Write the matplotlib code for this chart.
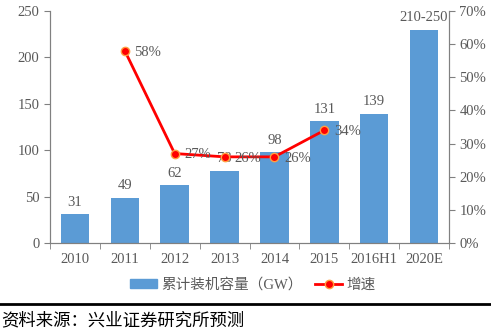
import matplotlib.pyplot as plt
from matplotlib.lines import Line2D
from matplotlib.patches import Patch

plt.rcParams['font.family'] = ['Liberation Serif', 'Noto Sans CJK SC']

# cumulative installed capacity (GW) and growth rate
years = ['2010', '2011', '2012', '2013', '2014', '2015', '2016H1', '2020E']
capacity = [31, 49, 62, 78, 98, 131, 139, 230]
capacity_labels = ['31', '49', '62', '78', '98', '131', '139', '210-250']
growth_years = ['2011', '2012', '2013', '2014', '2015']
growth = [58, 27, 26, 26, 34]

grey = '#595959'
bar_color = '#5B9BD5'
fs = 10.5

fig = plt.figure(figsize=(4.91, 3.28), dpi=100)
ax = fig.add_axes([0.1018, 0.259, 0.8127, 0.7075])
x = list(range(len(years)))
ax.bar(x, capacity, width=0.57, color=bar_color, zorder=2)
for xi, v, lab in zip(x, capacity, capacity_labels):
    ax.annotate(lab, (xi, v), xytext=(0, 4), textcoords='offset points',
                ha='center', va='bottom', fontsize=fs, color=grey)

ax.set_xlim(-0.5, len(years) - 0.5)
ax.set_ylim(0, 250)
ax.set_yticks(range(0, 251, 50))
ax.set_xticks(x)
ax.set_xticklabels(years)
ax.set_xticks([i + 0.5 for i in range(-1, len(years))], minor=True)
ax.tick_params(axis='x', which='major', length=0, pad=7, labelsize=fs, labelcolor=grey)
ax.tick_params(axis='x', which='minor', length=4, color='#808080', direction='out')
ax.tick_params(axis='y', length=4, color='#808080', labelsize=fs, labelcolor=grey)
for s in ['left', 'bottom', 'right']:
    ax.spines[s].set_color('#808080')
ax.spines['top'].set_visible(False)

ax2 = ax.twinx()
gx = [years.index(y) for y in growth_years]
ax2.plot(gx, growth, color='#FF0000', lw=2, marker='o', ms=6,
         mfc='#FF0000', mec='#FFA040', mew=1, zorder=3)
for xi, v in zip(gx, growth):
    ax2.annotate(f'{v}%', (xi, v), xytext=(7, -1), textcoords='offset points',
                 ha='left', va='center', fontsize=fs, color=grey)
ax2.set_ylim(0, 70)
ax2.set_yticks(range(0, 71, 10))
ax2.set_yticklabels([f'{t}%' for t in range(0, 71, 10)])
ax2.tick_params(axis='y', length=4, color='#808080', labelsize=fs, labelcolor=grey)
for s in ['left', 'bottom', 'right']:
    ax2.spines[s].set_color('#808080')
ax2.spines['top'].set_visible(False)

handles = [Patch(color=bar_color),
           Line2D([], [], color='#FF0000', lw=2, marker='o', ms=6,
                  mfc='#FF0000', mec='#FFA040')]
leg = fig.legend(handles, ['累计装机容量（GW）', '增速'], loc='center',
                 bbox_to_anchor=(0.515, 0.131), ncol=2, frameon=False,
                 fontsize=10.5, handlelength=1.8, handleheight=0.55,
                 handletextpad=0.3, columnspacing=0.9)
for t in leg.get_texts():
    t.set_color(grey)

fig.add_artist(Line2D([0, 1], [1 - 304 / 328] * 2, color='black', lw=2,
                      transform=fig.transFigure))
fig.text(0.002, 1 - 320 / 328, '资料来源：兴业证券研究所预测', fontsize=12.5,
         color='black', va='center', ha='left', family=['Noto Sans CJK SC'])

fig.savefig('out.png', dpi=100)
